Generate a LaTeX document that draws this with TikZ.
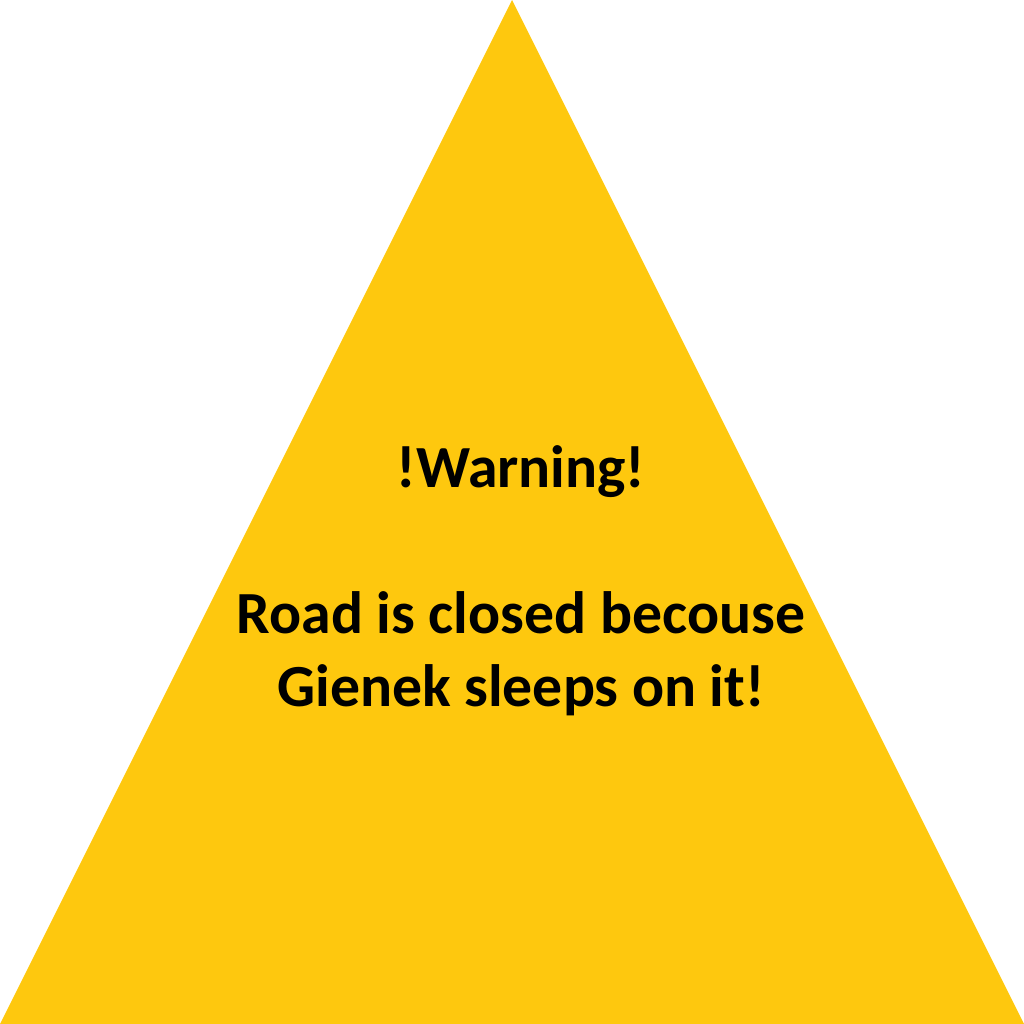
\documentclass[tikz,border=0pt]{standalone}
\usepackage{fontspec}
\setmainfont{Carlito}
\usepackage{tikz}
\definecolor{signyellow}{RGB}{254,200,14}

\begin{document}
\begin{tikzpicture}[x=0.1mm, y=0.1mm]
\tikzset{signtext/.style={anchor=base, inner sep=0pt, font=\fontsize{17pt}{20pt}\selectfont\bfseries}}
\useasboundingbox (0, 0) rectangle (1024, 1024);
\fill[signyellow] (0, 0) -- (512, 1024) -- (1024, 0) -- cycle;
\node[signtext] (warning) at (521, 536) {!Warning!};
\node[signtext] (road) at (521, 390) {Road is closed becouse};
\node[signtext] (gienek) at (521, 317) {Gienek sleeps on it!};
\end{tikzpicture}
\end{document}
